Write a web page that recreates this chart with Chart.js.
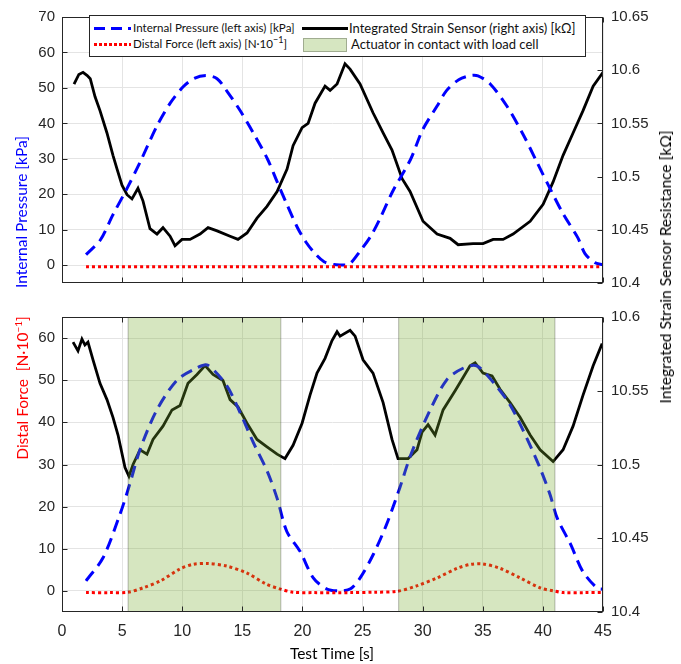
<!DOCTYPE html>
<html lang="en">
<head>
  <meta charset="UTF-8">
  <title>Internal pressure, distal force and strain sensor</title>
  <script src="https://cdn.jsdelivr.net/npm/chart.js"></script>
  <style>
    body { margin: 0; background: #fff; }
    #wrap { position: relative; width: 681px; height: 664px; overflow: hidden; }
    #wrap canvas { position: absolute; left: 0; }
    #topChart { top: 0; }
    #botChart { top: 300px; }
    .axTitle {
      position: absolute; white-space: nowrap;
      font-family: Lato, 'Open Sans', sans-serif; font-size: 15.5px; line-height: 18px;
      transform: translate(-50%, -50%);
    }
    .rot { transform: translate(-50%, -50%) rotate(-90deg); }
    #legend {
      position: absolute; left: 89px; top: 15px; width: 495px; height: 40px;
      border: 1px solid #262626; background: #fff;
      font-family: Lato, 'Open Sans', sans-serif; font-size: 11.6px; color: #111;
    }
    #legend .txt { position: absolute; line-height: 14px; white-space: nowrap; }
    #legend .col2 { font-size: 13px; }
    #legend .smp { position: absolute; }
  </style>
</head>
<body>
  <div id="wrap">
    <canvas id="topChart" width="681" height="300"></canvas>
    <canvas id="botChart" width="681" height="364"></canvas>

    <div id="legend">
      <div class="smp" style="left:4px;top:11px;width:37px;height:3px;background:repeating-linear-gradient(to right,#0000ff 0 11px,transparent 11px 17px);"></div>
      <div class="txt" style="left:43px;top:5px;">Internal Pressure (left axis) [kPa]</div>
      <div class="smp" style="left:212px;top:11px;width:46px;height:3px;background:#000;"></div>
      <div class="txt col2" style="left:259px;top:5px;">Integrated Strain Sensor (right axis) [kΩ]</div>
      <div class="smp" style="left:4px;top:27px;width:37px;height:3px;background:repeating-linear-gradient(to right,#ff0000 0 3px,transparent 3px 5px);"></div>
      <div class="txt" style="left:43px;top:21px;">Distal Force (left axis) [N·10<sup style="font-size:9px;line-height:0;">−1</sup>]</div>
      <div class="smp" style="left:213px;top:22px;width:42px;height:12px;background:rgb(214,230,193);border:1px solid rgba(0,0,0,0.25);"></div>
      <div class="txt col2" style="left:261px;top:21px;">Actuator in contact with load cell</div>
    </div>

    <div class="axTitle rot" style="left:21px;top:212px;color:#0000ff;">Internal Pressure [kPa]</div>
    <div class="axTitle rot" style="left:22px;top:388px;color:#ff0000;">Distal Force&nbsp; [N·10<sup style="font-size:10px;line-height:0;">−1</sup>]</div>
    <div class="axTitle rot" style="left:665px;top:267px;color:#000;">Integrated Strain Sensor Resistance [kΩ]</div>
    <div class="axTitle" style="left:332px;top:653px;color:#000;">Test Time [s]</div>
  </div>

  <script>
    // ---- data (time in s) ----
    // top panel: pressure [kPa]
    const pressTopT = [2.0, 3.2, 4.2, 5.4, 6.5, 7.9, 9.0, 10.1, 11.0, 12.0, 12.9, 13.7, 14.8, 15.9, 17.1, 17.9, 18.7, 19.6, 20.3, 21.0, 21.8, 22.6, 23.3, 23.9, 24.8, 25.7, 26.5, 27.5, 29.0, 30.0, 31.2, 32.0, 33.0, 34.0, 34.6, 35.6, 37.0, 38.4, 39.5, 40.6, 41.7, 42.9, 43.5, 44.3, 45.0];
    const pressTopV = [3.0, 7.2, 14.0, 21.6, 29.1, 39.3, 45.7, 50.4, 52.7, 53.5, 52.6, 49.2, 43.7, 37.4, 29.9, 23.5, 17.2, 10.5, 6.5, 3.5, 1.0, 0.2, 0.1, 0.3, 4.0, 8.3, 13.5, 20.8, 29.9, 38.2, 44.9, 49.3, 52.3, 53.5, 53.4, 51.2, 44.9, 36.6, 29.1, 21.6, 14.4, 7.8, 3.3, 0.8, 0.1];
    // top panel: distal force [N*10^-1]
    const forceTopT = [2.0, 10.0, 20.0, 30.0, 40.0, 45.0];
    const forceTopV = [-0.4, -0.4, -0.4, -0.4, -0.4, -0.4];
    // top panel: strain sensor [kOhm]
    const strainTopT = [1.0, 1.4, 1.75, 2.1, 2.35, 2.75, 3.16, 3.74, 4.24, 4.58, 4.99, 5.41, 5.82, 6.32, 6.74, 7.32, 7.9, 8.4, 8.99, 9.4, 9.98, 10.65, 11.48, 12.15, 12.9, 13.98, 14.64, 15.39, 16.22, 17.05, 17.89, 18.72, 19.22, 19.97, 20.47, 21.05, 21.88, 22.3, 22.88, 23.54, 23.96, 24.79, 25.87, 26.71, 27.45, 28.29, 28.95, 30.03, 31.2, 32.28, 32.95, 34.19, 35.02, 35.86, 36.69, 37.52, 38.94, 40.02, 40.85, 41.68, 42.51, 43.34, 44.18, 45.0];
    const strainTopV = [10.587, 10.596, 10.598, 10.595, 10.592, 10.575, 10.562, 10.541, 10.520, 10.507, 10.492, 10.483, 10.479, 10.489, 10.477, 10.451, 10.446, 10.452, 10.444, 10.435, 10.441, 10.441, 10.446, 10.452, 10.449, 10.444, 10.441, 10.447, 10.461, 10.472, 10.486, 10.507, 10.529, 10.546, 10.550, 10.569, 10.585, 10.581, 10.587, 10.606, 10.601, 10.587, 10.560, 10.541, 10.525, 10.498, 10.486, 10.458, 10.446, 10.442, 10.436, 10.437, 10.437, 10.441, 10.441, 10.446, 10.458, 10.474, 10.495, 10.520, 10.541, 10.562, 10.585, 10.598];

    // bottom panel
    const pressBotT = [2.0, 3.4, 4.8, 5.6, 6.5, 7.9, 9.6, 11.2, 12.1, 13.7, 14.8, 15.9, 17.1, 17.9, 18.7, 19.8, 20.9, 22.0, 23.1, 24.0, 24.8, 25.9, 27.0, 28.1, 29.0, 30.4, 32.0, 33.4, 34.5, 35.9, 37.3, 38.7, 39.8, 40.6, 41.2, 42.3, 43.3, 44.5, 45.0];
    const pressBotV = [2.4, 7.8, 18.0, 25.0, 33.6, 43.0, 50.1, 52.9, 53.6, 48.7, 42.4, 35.3, 28.2, 21.9, 14.1, 9.4, 3.1, 0.5, 0.0, 0.5, 3.1, 8.7, 15.8, 24.5, 32.2, 41.6, 50.1, 52.9, 53.4, 49.4, 44.0, 36.0, 28.9, 22.8, 17.2, 11.1, 4.7, 0.7, 0.4];
    const forceBotT = [2.0, 4.0, 5.5, 6.8, 8.2, 9.8, 10.9, 12.1, 13.7, 15.4, 17.0, 18.1, 19.2, 21.0, 24.0, 26.0, 27.9, 29.5, 31.2, 32.9, 34.0, 35.0, 36.4, 38.1, 39.8, 40.9, 41.7, 43.5, 45.0];
    const forceBotV = [-0.4, -0.4, -0.3, 0.8, 2.4, 5.2, 6.3, 6.5, 5.9, 4.2, 1.6, 0.5, -0.3, -0.4, -0.4, -0.3, -0.1, 1.2, 3.1, 5.4, 6.3, 6.4, 5.4, 3.1, 0.7, 0.0, -0.4, -0.4, -0.4];
    const strainBotT = [0.92, 1.33, 1.66, 1.91, 2.16, 2.58, 3.16, 3.74, 4.24, 4.66, 5.24, 5.57, 5.91, 6.49, 7.07, 7.57, 8.4, 9.15, 9.82, 10.48, 11.23, 11.9, 12.56, 13.39, 13.98, 14.64, 15.39, 16.22, 17.05, 17.89, 18.55, 19.22, 19.97, 20.63, 21.21, 21.88, 22.46, 22.88, 23.13, 23.96, 24.38, 25.04, 25.87, 26.71, 27.45, 27.95, 28.79, 29.53, 29.95, 30.45, 31.03, 31.7, 32.7, 33.36, 33.94, 34.36, 35.02, 35.77, 36.44, 37.27, 38.1, 38.94, 39.77, 40.85, 41.68, 42.51, 43.34, 44.18, 44.93];
    const strainBotV = [10.583, 10.577, 10.585, 10.581, 10.583, 10.571, 10.555, 10.544, 10.532, 10.520, 10.498, 10.492, 10.500, 10.510, 10.507, 10.517, 10.526, 10.537, 10.540, 10.555, 10.561, 10.567, 10.561, 10.557, 10.544, 10.539, 10.528, 10.517, 10.512, 10.507, 10.504, 10.513, 10.528, 10.547, 10.562, 10.572, 10.584, 10.590, 10.587, 10.591, 10.587, 10.571, 10.562, 10.542, 10.517, 10.504, 10.504, 10.510, 10.522, 10.527, 10.520, 10.537, 10.550, 10.559, 10.567, 10.569, 10.562, 10.560, 10.551, 10.542, 10.532, 10.520, 10.510, 10.502, 10.510, 10.526, 10.547, 10.567, 10.582];
    // actuator in contact with load cell (bottom panel)
    const contactStart = [5.5, 28.0];
    const contactEnd = [18.2, 41.0];

    // tick values
    const xTickVals = [0, 5, 10, 15, 20, 25, 30, 35, 40, 45];
    const leftTicksTop = [0, 10, 20, 30, 40, 50, 60, 70];
    const leftTicksBot = [0, 10, 20, 30, 40, 50, 60];
    const rightTicksTop = [10.4, 10.45, 10.5, 10.55, 10.6, 10.65];
    const rightTicksBot = [10.4, 10.45, 10.5, 10.55, 10.6];

    const tickFont = { family: "'Liberation Sans', Arial, sans-serif", size: 15 };
    const axisColor = '#262626';
    const gridColor = '#e4e4e4';

    const pts = (ts, vs) => ts.map((t, i) => ({ x: t, y: vs[i] }));
    const setTicks = vals => s => { s.ticks = vals.map(v => ({ value: v })); };

    // box around the axes + inward tick marks (MATLAB look)
    const frameTicks = {
      id: 'frameTicks',
      afterDraw(chart) {
        const { ctx, chartArea: a, scales } = chart;
        const L = Math.round(a.left) + 0.5, R = Math.round(a.right) - 0.5;
        const T = Math.round(a.top) + 0.5, B = Math.round(a.bottom) - 0.5;
        ctx.save();
        ctx.strokeStyle = axisColor;
        ctx.lineWidth = 1;
        ctx.strokeRect(L, T, R - L, B - T);
        ctx.beginPath();
        scales.x.ticks.forEach(tk => {
          const p = Math.round(scales.x.getPixelForValue(tk.value)) + 0.5;
          ctx.moveTo(p, B); ctx.lineTo(p, B - 5);
          ctx.moveTo(p, T); ctx.lineTo(p, T + 5);
        });
        scales.y.ticks.forEach(tk => {
          const p = Math.round(scales.y.getPixelForValue(tk.value)) + 0.5;
          ctx.moveTo(L, p); ctx.lineTo(L + 5, p);
        });
        scales.y1.ticks.forEach(tk => {
          const p = Math.round(scales.y1.getPixelForValue(tk.value)) + 0.5;
          ctx.moveTo(R, p); ctx.lineTo(R - 5, p);
        });
        ctx.stroke();
        ctx.restore();
      }
    };

    // translucent green patches drawn over the data
    const contactPatch = {
      id: 'contactPatch',
      afterDatasetsDraw(chart) {
        const { ctx, chartArea: a, scales: { x } } = chart;
        ctx.save();
        contactStart.forEach((t0, i) => {
          const x0 = x.getPixelForValue(t0);
          const x1 = x.getPixelForValue(contactEnd[i]);
          ctx.fillStyle = 'rgba(119,172,48,0.3)';
          ctx.fillRect(x0, a.top, x1 - x0, a.bottom - a.top);
          ctx.strokeStyle = 'rgba(0,0,0,0.22)';
          ctx.lineWidth = 1.2;
          ctx.beginPath();
          ctx.moveTo(x0, a.top); ctx.lineTo(x0, a.bottom);
          ctx.moveTo(x1, a.top); ctx.lineTo(x1, a.bottom);
          ctx.stroke();
        });
        ctx.restore();
      }
    };

    function makeDatasets(pT, pV, fT, fV, sT, sV) {
      return [
        {
          label: 'Distal Force (left axis) [N·10⁻¹]',
          data: pts(fT, fV), yAxisID: 'y',
          borderColor: '#ff0000', borderWidth: 3, borderDash: [3, 3],
          pointRadius: 0, tension: 0.3
        },
        {
          label: 'Internal Pressure (left axis) [kPa]',
          data: pts(pT, pV), yAxisID: 'y',
          borderColor: '#0000ff', borderWidth: 3, borderDash: [12, 7],
          pointRadius: 0, tension: 0.3
        },
        {
          label: 'Integrated Strain Sensor (right axis) [kΩ]',
          data: pts(sT, sV), yAxisID: 'y1',
          borderColor: '#000000', borderWidth: 2.8,
          pointRadius: 0, tension: 0
        }
      ];
    }

    function makeScales(opts) {
      return {
        x: {
          type: 'linear', min: 0, max: 45,
          afterBuildTicks: setTicks(xTickVals),
          ticks: {
            autoSkip: false, maxRotation: 0,
            display: opts.showX, padding: 10, color: axisColor,
            font: { family: tickFont.family, size: 16 }
          },
          grid: { color: gridColor, drawTicks: false },
          border: { display: false },
          afterFit: s => { s.height = opts.xHeight; }
        },
        y: {
          position: 'left', min: opts.yMin, max: opts.yMax,
          afterBuildTicks: setTicks(opts.leftTicks),
          ticks: { padding: 7, color: axisColor, font: tickFont },
          grid: { color: gridColor, drawTicks: false },
          border: { display: false },
          afterFit: s => { s.width = 62; }
        },
        y1: {
          position: 'right', min: opts.rMin, max: opts.rMax,
          afterBuildTicks: setTicks(opts.rightTicks),
          ticks: {
            padding: 8, color: axisColor, font: tickFont,
            callback: v => String(+v.toFixed(2))
          },
          grid: { display: false, drawTicks: false },
          border: { display: false },
          afterFit: s => { s.width = 78; }
        }
      };
    }

    const commonOpts = {
      responsive: false,
      animation: false,
      plugins: { legend: { display: false }, tooltip: { enabled: false } }
    };

    new Chart(document.getElementById('topChart'), {
      type: 'line',
      data: { datasets: makeDatasets(pressTopT, pressTopV, forceTopT, forceTopV, strainTopT, strainTopV) },
      options: {
        ...commonOpts,
        layout: { padding: { top: 12, left: 0, right: 0, bottom: 0 } },
        scales: makeScales({
          showX: false, xHeight: 17, yMin: -5, yMax: 70, rMin: 10.4, rMax: 10.65,
          leftTicks: leftTicksTop, rightTicks: rightTicksTop
        })
      },
      plugins: [frameTicks]
    });

    new Chart(document.getElementById('botChart'), {
      type: 'line',
      data: { datasets: makeDatasets(pressBotT, pressBotV, forceBotT, forceBotV, strainBotT, strainBotV) },
      options: {
        ...commonOpts,
        layout: { padding: { top: 13, left: 0, right: 0, bottom: 0 } },
        scales: makeScales({
          showX: true, xHeight: 52, yMin: -5, yMax: 65, rMin: 10.4, rMax: 10.6,
          leftTicks: leftTicksBot, rightTicks: rightTicksBot
        })
      },
      plugins: [contactPatch, frameTicks]
    });
  </script>
</body>
</html>
